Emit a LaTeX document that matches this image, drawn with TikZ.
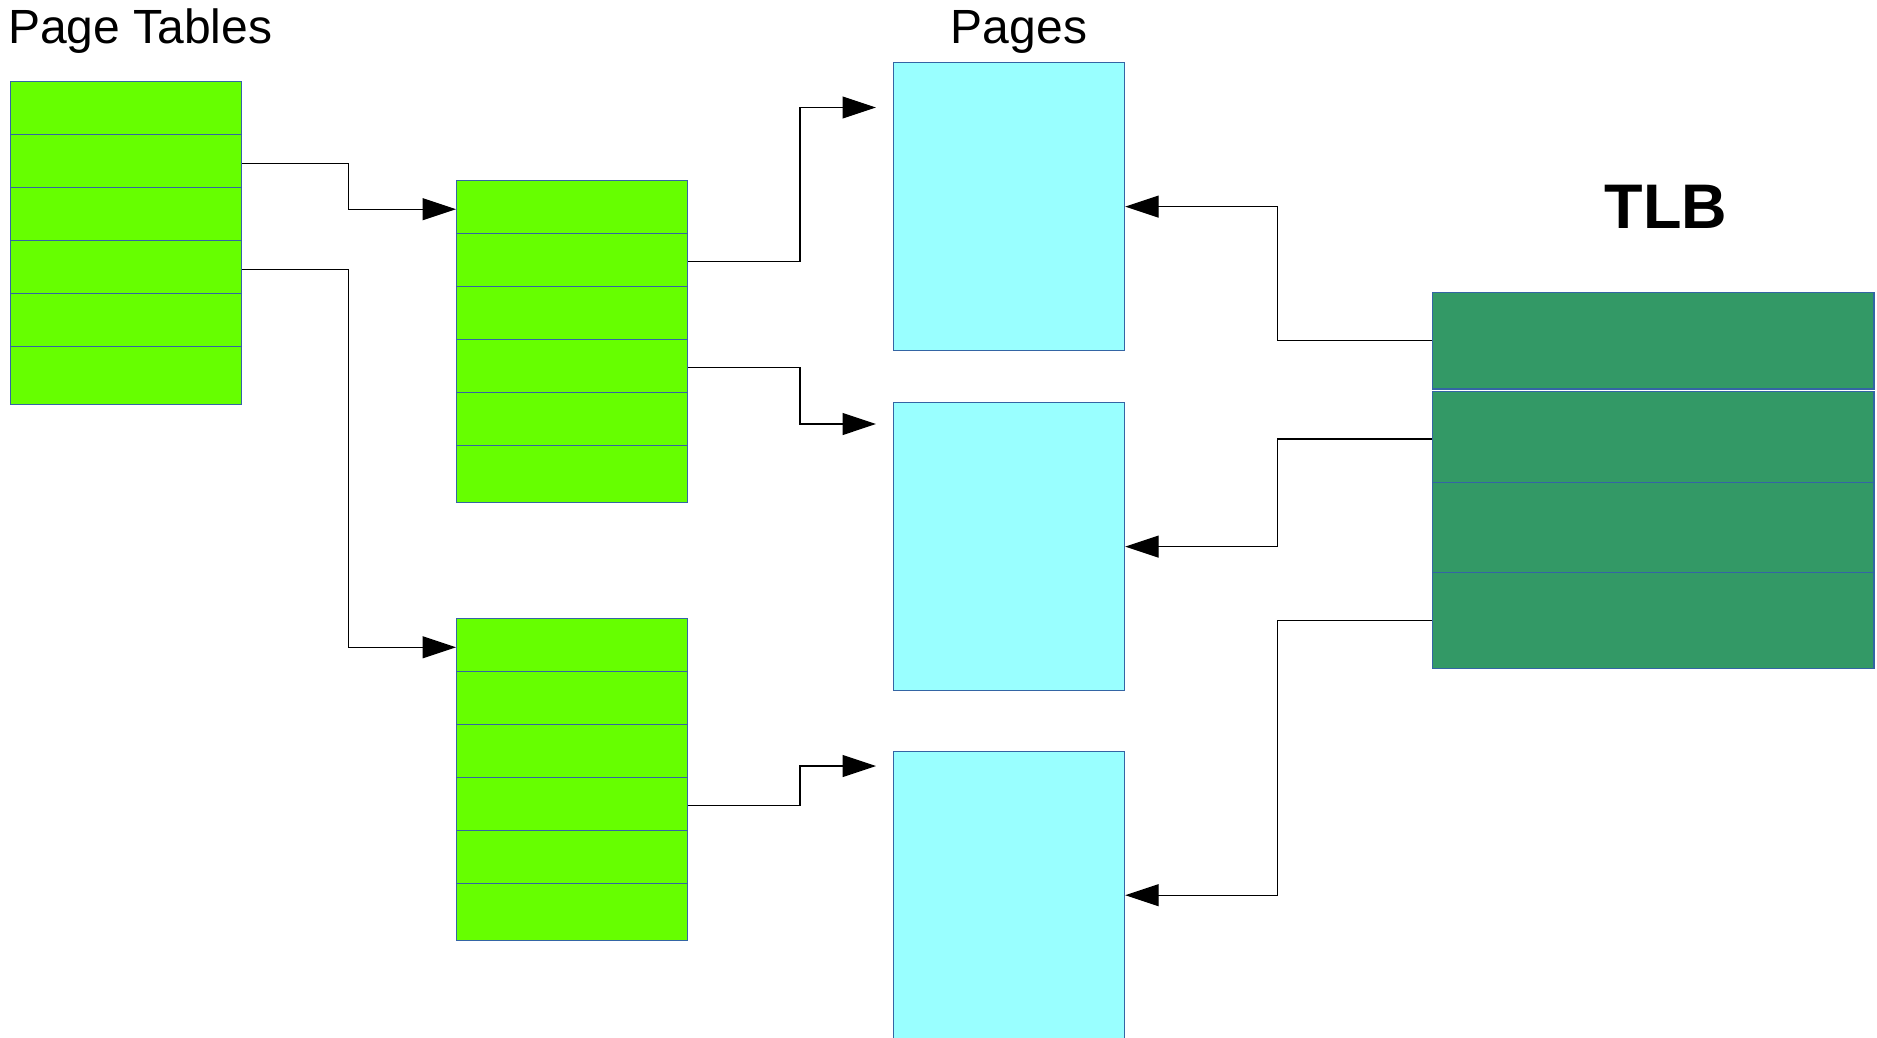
\documentclass[tikz,border=0pt]{standalone}
\usepackage{fontspec}
\setmainfont{Liberation Sans}
\usetikzlibrary{arrows.meta}
\definecolor{tablegreen}{HTML}{66FF00}
\definecolor{pagecyan}{HTML}{99FFFF}
\definecolor{tlbgreen}{HTML}{339966}
\definecolor{edgeblue}{HTML}{3465A4}
\begin{document}
\begin{tikzpicture}[x=1pt,y=-1pt,
  cell/.style={rectangle, draw=edgeblue, line width=1.2pt, inner sep=0pt,
               anchor=north west, minimum width=231pt},
  ptrow/.style={cell, fill=tablegreen},
  pagebox/.style={cell, fill=pagecyan, minimum height=288pt},
  tlbrow/.style={cell, fill=tlbgreen, minimum width=441.8pt},
  link/.style={draw=black, line width=1.2pt},
  ptr/.style={link, -{Triangle[length=33.5pt,width=22pt]}},
  title/.style={inner sep=0pt, anchor=base, font=\fontsize{48}{58}\selectfont}
]
\useasboundingbox (0,0) rectangle (1877,1038);

% headings
\node[title, anchor=base west] (pttitle) at (8,43.3) {Page Tables};
\node[title] (pgtitle) at (1019,43.3) {Pages};
\node[title, font=\fontsize{63}{75}\selectfont\bfseries] (tlbtitle) at (1666,228) {TLB};

% page tables: six entries each
\foreach \t/\x/\y in {pt1/10/81, pt2/456/179.6, pt3/456/617.7} {
  \foreach \i in {1,...,6} {
    \pgfmathsetmacro\h{\i==6 ? 57.5 : 53}
    \node[ptrow, minimum height=\h pt] (\t r\i) at ({\x},{\y+53*(\i-1)}) {};
  }
}

% physical pages
\node[pagebox] (pg1) at (893,62) {};
\node[pagebox] (pg2) at (893,402) {};
\node[pagebox] (pg3) at (893,750.6) {};

% translation lookaside buffer
\node[tlbrow, minimum height=96.1pt] (tlb1) at (1431.6,292.2) {};
\node[tlbrow, minimum height=90.6pt] (tlb2) at (1431.6,391) {};
\node[tlbrow, minimum height=90.6pt] (tlb3) at (1431.6,481.6) {};
\node[tlbrow, minimum height=96pt] (tlb4) at (1431.6,572.2) {};

% vertical runs of the connectors and free arrow ends
\coordinate (busA) at (348.5,0);
\coordinate (busB) at (800,0);
\coordinate (busC) at (1277.5,0);
\coordinate (to1) at (876,107.5);
\coordinate (to2) at (876,424);
\coordinate (to3) at (876,766);

% connection points, a little below the middle of each entry
\coordinate (s12) at ([yshift=-2.5pt]pt1r2.east);
\coordinate (s14) at ([yshift=-2.5pt]pt1r4.east);
\coordinate (e21) at ([yshift=-2.5pt]pt2r1.west);
\coordinate (e31) at ([yshift=-2.5pt]pt3r1.west);
\coordinate (s22) at ([yshift=-2pt]pt2r2.east);
\coordinate (s24) at ([yshift=-1.5pt]pt2r4.east);
\coordinate (s34) at ([yshift=-2pt]pt3r4.east);
\coordinate (t2) at ([yshift=-2pt]tlb2.west);

% top-level table to second-level tables
\draw[ptr] (s12) -- (s12 -| busA) |- (e21);
\draw[ptr] (s14) -- (s14 -| busA) |- (e31);

% second-level tables to pages
\draw[ptr] (s22) -- (s22 -| busB) |- (to1);
\draw[ptr] (s24) -- (s24 -| busB) |- (to2);
\draw[ptr] (s34) -- (s34 -| busB) |- (to3);

% TLB entries to pages
\draw[ptr] (tlb1.west) -- (tlb1.west -| busC) |- (pg1.east);
\draw[ptr] (t2) -- (t2 -| busC) |- (pg2.east);
\draw[ptr] (tlb4.west) -- (tlb4.west -| busC) |- (pg3.east);
\end{tikzpicture}
\end{document}
